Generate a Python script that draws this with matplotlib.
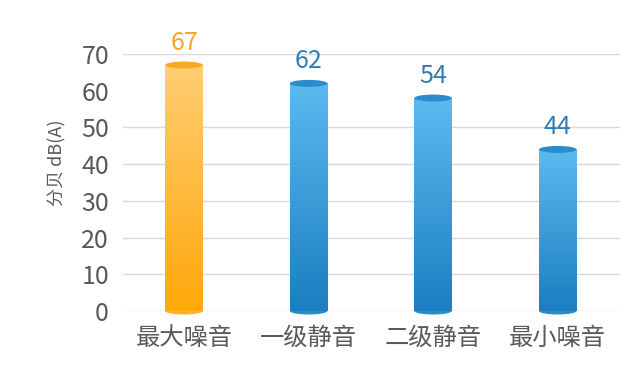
import numpy as np
import matplotlib
matplotlib.use("Agg")
import matplotlib.pyplot as plt
from matplotlib.patches import Ellipse, Rectangle
from matplotlib.colors import LinearSegmentedColormap

plt.rcParams['font.family'] = ['Noto Sans CJK SC', 'DejaVu Sans']
plt.rcParams['font.weight'] = 'light'

categories = ["最大噪音", "一级静音", "二级静音", "最小噪音"]
heights = [67, 62, 58, 44]          # drawn bar heights as seen in the picture
value_labels = ["67", "62", "54", "44"]
y_ticks = [0, 10, 20, 30, 40, 50, 60, 70]
y_label = "分贝 dB(A)"

orange = dict(top="#FFCD72", bottom="#FFA80A", cap="#F7AB22", base="#FFB21F", text="#F2A62A")
blue = dict(top="#5CBAF0", bottom="#1A7EC0", cap="#2A8DCB", base="#2A8DCB", text="#2F7DB3")
styles = [orange, blue, blue, blue]

fig = plt.figure(figsize=(6.43, 3.71), dpi=100)
ax = fig.add_axes([123/643, 1-311/371, (620-123)/643, (311-54)/371])
ax.set_xlim(-0.49, 3.5)
ax.set_ylim(0, 70)

# grid lines (the 60 line is not visible in the reference)
for t in y_ticks:
    if t in (0, 60):
        continue
    ax.axhline(t, color="#D9D9D9", lw=1, zorder=0)
ax.axhline(0, color="#D9D9D9", lw=1, zorder=0)

w = 0.3
px_per_unit = (311-54)/70
cap_h = 7/px_per_unit
grad = np.linspace(0, 1, 256).reshape(-1, 1)
for i, (h, st) in enumerate(zip(heights, styles)):
    cmap = LinearSegmentedColormap.from_list("g", [st["bottom"], st["top"]])
    im = ax.imshow(grad, extent=(i-w/2, i+w/2, 0, h), origin="lower", cmap=cmap,
                   aspect="auto", zorder=2, interpolation="bilinear")
    rect = Rectangle((i-w/2, 0), w, h, transform=ax.transData, facecolor="none", edgecolor="none")
    ax.add_patch(rect)
    im.set_clip_path(rect)
    ax.add_patch(Ellipse((i, 0), w, cap_h, facecolor=st["base"], edgecolor="none",
                         zorder=1.9, clip_on=False))
    ax.add_patch(Ellipse((i, h), w, cap_h, facecolor=st["cap"], edgecolor="none",
                         zorder=3, clip_on=False))
    ax.annotate(value_labels[i], (i, h), xytext=(0, 11), textcoords="offset points",
                ha="center", va="baseline", fontsize=18, color=st["text"], clip_on=False)

ax.set_xticks(range(len(categories)))
ax.set_xticklabels(categories, fontsize=17.5, color="#595959")
ax.set_yticks(y_ticks)
ax.set_yticklabels([str(t) for t in y_ticks], fontsize=18, color="#595959")
ax.tick_params(axis="x", length=0, pad=10)
ax.tick_params(axis="y", length=0, pad=10)
for s in ax.spines.values():
    s.set_visible(False)

fig.text(57/643, 1-163/371, y_label, rotation=90, ha="center", va="center",
         fontsize=13, color="#595959")

fig.savefig("out.png", dpi=100)
